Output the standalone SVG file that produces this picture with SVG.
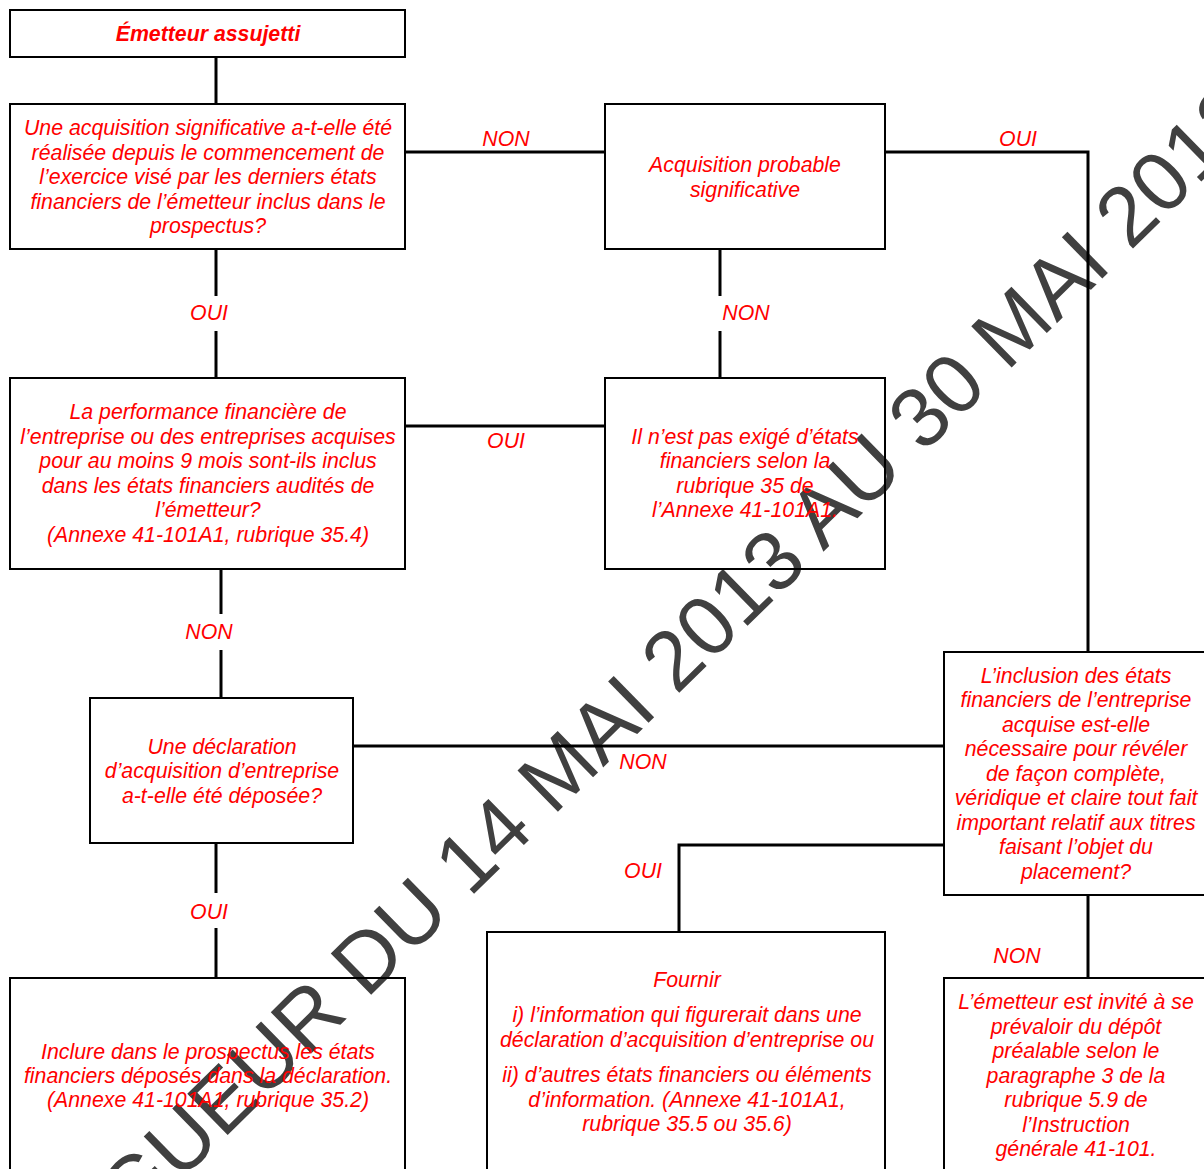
<svg xmlns="http://www.w3.org/2000/svg" width="1204" height="1169" viewBox="0 0 1204 1169">
<style>
.box{fill:none;stroke:#000;stroke-width:2}
.con{fill:none;stroke:#000;stroke-width:3}
.t{font-family:"Liberation Sans",Arial,sans-serif;font-size:21.3px;font-style:italic;fill:#ff0000;text-anchor:middle}
.b{font-weight:bold}
.wm{font-family:"Liberation Sans",Arial,sans-serif;font-size:84px;fill:#404040}
</style>
<rect width="1204" height="1169" fill="#fff"/>
<text class="wm" transform="translate(-24,1381.5) rotate(-44.4)" x="0" y="0">EN VIGUEUR DU 14 MAI 2013 AU 30 MAI 2013</text>
<g id="connectors">
<line class="con" x1="216" y1="57" x2="216" y2="104"/>
<line class="con" x1="405" y1="152" x2="605" y2="152"/>
<polyline class="con" points="885,152 1088,152 1088,652"/>
<line class="con" x1="216" y1="249" x2="216" y2="296"/>
<line class="con" x1="216" y1="331" x2="216" y2="378"/>
<line class="con" x1="720" y1="249" x2="720" y2="296"/>
<line class="con" x1="720" y1="331" x2="720" y2="378"/>
<line class="con" x1="405" y1="426" x2="605" y2="426"/>
<line class="con" x1="221" y1="569" x2="221" y2="614"/>
<line class="con" x1="221" y1="650" x2="221" y2="698"/>
<line class="con" x1="353" y1="746" x2="944" y2="746"/>
<polyline class="con" points="944,845 679,845 679,932"/>
<line class="con" x1="216" y1="843" x2="216" y2="893"/>
<line class="con" x1="216" y1="928" x2="216" y2="978"/>
<line class="con" x1="1088" y1="895" x2="1088" y2="978"/>
<text class="t" x="506" y="146">NON</text>
<text class="t" x="1018" y="146">OUI</text>
<text class="t" x="209" y="320">OUI</text>
<text class="t" x="746" y="320">NON</text>
<text class="t" x="506" y="448">OUI</text>
<text class="t" x="209" y="639">NON</text>
<text class="t" x="643" y="769">NON</text>
<text class="t" x="643" y="878">OUI</text>
<text class="t" x="209" y="919">OUI</text>
<text class="t" x="1017" y="963">NON</text>
</g>
<g id="n1">
<rect class="box" x="10" y="10" width="395" height="47"/>
<text class="t b" x="208" y="41">Émetteur assujetti</text>
</g>
<g id="n2">
<rect class="box" x="10" y="104" width="395" height="145"/>
<text class="t" x="208" y="135">Une acquisition significative a-t-elle été</text>
<text class="t" x="208" y="159.5">réalisée depuis le commencement de</text>
<text class="t" x="208" y="184">l’exercice visé par les derniers états</text>
<text class="t" x="208" y="208.5">financiers de l’émetteur inclus dans le</text>
<text class="t" x="208" y="233">prospectus?</text>
</g>
<g id="n3">
<rect class="box" x="605" y="104" width="280" height="145"/>
<text class="t" x="745" y="172">Acquisition probable</text>
<text class="t" x="745" y="197">significative</text>
</g>
<g id="n4">
<rect class="box" x="10" y="378" width="395" height="191"/>
<text class="t" x="208" y="419">La performance financière de</text>
<text class="t" x="208" y="444">l’entreprise ou des entreprises acquises</text>
<text class="t" x="208" y="468">pour au moins 9 mois sont-ils inclus</text>
<text class="t" x="208" y="493">dans les états financiers audités de</text>
<text class="t" x="208" y="517">l’émetteur?</text>
<text class="t" x="208" y="542">(Annexe 41-101A1, rubrique 35.4)</text>
</g>
<g id="n5">
<rect class="box" x="605" y="378" width="280" height="191"/>
<text class="t" x="745" y="444">Il n’est pas exigé d’états</text>
<text class="t" x="745" y="468">financiers selon la</text>
<text class="t" x="745" y="493">rubrique 35 de</text>
<text class="t" x="745" y="517">l’Annexe 41-101A1.</text>
</g>
<g id="n6">
<rect class="box" x="90" y="698" width="263" height="145"/>
<text class="t" x="222" y="754">Une déclaration</text>
<text class="t" x="222" y="778">d’acquisition d’entreprise</text>
<text class="t" x="222" y="803">a-t-elle été déposée?</text>
</g>
<g id="n7">
<rect class="box" x="944" y="652" width="264" height="243"/>
<text class="t" x="1076" y="683">L’inclusion des états</text>
<text class="t" x="1076" y="707">financiers de l’entreprise</text>
<text class="t" x="1076" y="732">acquise est-elle</text>
<text class="t" x="1076" y="756">nécessaire pour révéler</text>
<text class="t" x="1076" y="781">de façon complète,</text>
<text class="t" x="1076" y="805">véridique et claire tout fait</text>
<text class="t" x="1076" y="830">important relatif aux titres</text>
<text class="t" x="1076" y="854">faisant l’objet du</text>
<text class="t" x="1076" y="879">placement?</text>
</g>
<g id="n8">
<rect class="box" x="10" y="978" width="395" height="200"/>
<text class="t" x="208" y="1059">Inclure dans le prospectus les états</text>
<text class="t" x="208" y="1083">financiers déposés dans la déclaration.</text>
<text class="t" x="208" y="1107">(Annexe 41-101A1, rubrique 35.2)</text>
</g>
<g id="n9">
<rect class="box" x="487" y="932" width="398" height="246"/>
<text class="t" x="687" y="987">Fournir</text>
<text class="t" x="687" y="1022">i) l’information qui figurerait dans une</text>
<text class="t" x="687" y="1047">déclaration d’acquisition d’entreprise ou</text>
<text class="t" x="687" y="1082">ii) d’autres états financiers ou éléments</text>
<text class="t" x="687" y="1107">d’information. (Annexe 41-101A1,</text>
<text class="t" x="687" y="1131">rubrique 35.5 ou 35.6)</text>
</g>
<g id="n10">
<rect class="box" x="944" y="978" width="264" height="200"/>
<text class="t" x="1076" y="1009">L’émetteur est invité à se</text>
<text class="t" x="1076" y="1034">prévaloir du dépôt</text>
<text class="t" x="1076" y="1058">préalable selon le</text>
<text class="t" x="1076" y="1083">paragraphe 3 de la</text>
<text class="t" x="1076" y="1107">rubrique 5.9 de</text>
<text class="t" x="1076" y="1132">l’Instruction</text>
<text class="t" x="1076" y="1156">générale 41-101.</text>
</g>
</svg>
